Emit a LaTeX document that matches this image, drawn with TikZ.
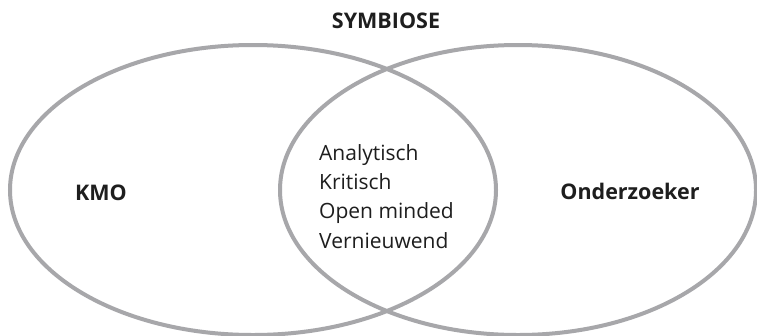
\documentclass[tikz,border=0pt]{standalone}
\usepackage{fontspec}
\usetikzlibrary{shapes.geometric}
\setmainfont{Open Sans}
\definecolor{ringgray}{RGB}{167,167,170}
\definecolor{txt}{RGB}{30,30,30}
\begin{document}
\begin{tikzpicture}[x=1pt,y=-1pt,
  ring/.style={draw=ringgray,line width=4pt},
  boldlabel/.style={font=\fontsize{21.5}{24}\selectfont\bfseries,text=txt,inner sep=0pt,anchor=base},
  traits/.style={font=\fontsize{21}{29.3}\selectfont,text=txt,inner sep=0pt,align=left,anchor=base west}]
\useasboundingbox (0,0) rectangle (757,335);
\fill[white] (0,0) rectangle (757,335);
\node[ring,ellipse,minimum width=486pt,minimum height=290pt,inner sep=0pt] (kmoset) at (253,190) {};
\node[ring,ellipse,minimum width=476pt,minimum height=290pt,inner sep=0pt] (ondset) at (518,190) {};
\node[boldlabel] (sym) at (386,28) {SYMBIOSE};
\node[boldlabel] (kmo) at (101,200) {KMO};
\node[boldlabel] (ond) at (630,199) {Onderzoeker};
\node[traits] (mid) at (319,248) {Analytisch\\Kritisch\\Open minded\\Vernieuwend};
\end{tikzpicture}
\end{document}
